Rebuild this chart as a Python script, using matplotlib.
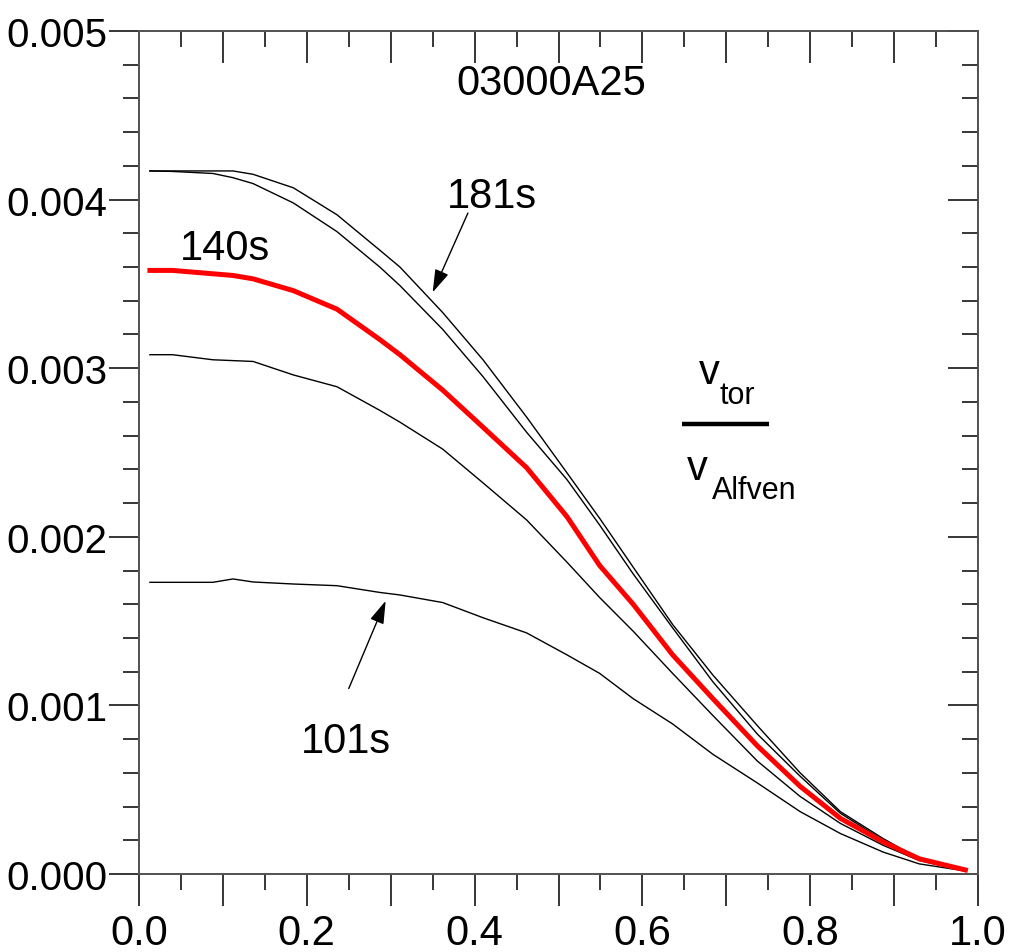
import numpy as np
import matplotlib
matplotlib.use("Agg")
import matplotlib.pyplot as plt
from matplotlib.ticker import MultipleLocator, FuncFormatter, NullFormatter

plt.rcParams['font.family'] = ['Liberation Sans', 'DejaVu Sans']

# normalised radius (shared grid)
r = [0.013, 0.04, 0.088, 0.112, 0.136, 0.184, 0.236, 0.287, 0.311, 0.362, 0.41,
     0.462, 0.51, 0.549, 0.589, 0.636, 0.684, 0.737, 0.788, 0.836, 0.887, 0.93, 0.985]

# v_tor / v_Alfven profiles
v_181 = [0.00417, 0.00417, 0.00417, 0.00417, 0.00415, 0.00407, 0.00391, 0.00370, 0.00360,
         0.00333, 0.00305, 0.00271, 0.00238, 0.00211, 0.00182, 0.00148, 0.00118, 0.00088,
         0.00060, 0.00037, 0.00021, 0.00009, 0.000025]
v_2nd = [0.00417, 0.004167, 0.004155, 0.00413, 0.004095, 0.00398, 0.00381, 0.00360, 0.00349,
         0.00323, 0.00295, 0.00262, 0.00234, 0.00207, 0.00178, 0.00146, 0.00114, 0.00083,
         0.00058, 0.00036, 0.00020, 0.00009, 0.000025]
v_140 = [0.00358, 0.00358, 0.00356, 0.00355, 0.00353, 0.00346, 0.00335, 0.00317, 0.00308,
         0.00287, 0.00265, 0.00241, 0.00212, 0.00183, 0.00160, 0.00130, 0.00104, 0.00076,
         0.00052, 0.00033, 0.00019, 0.00009, 0.000024]
v_4th = [0.00308, 0.00308, 0.00305, 0.003045, 0.00304, 0.00296, 0.00289, 0.00275, 0.00268,
         0.00252, 0.00232, 0.00210, 0.00185, 0.00164, 0.00144, 0.00119, 0.00094, 0.00067,
         0.00046, 0.00030, 0.00017, 0.00008, 0.000018]
v_101 = [0.00173, 0.00173, 0.00173, 0.00175, 0.001732, 0.00172, 0.00171, 0.00167, 0.001655,
         0.00161, 0.00152, 0.00143, 0.00130, 0.00119, 0.00104, 0.00089, 0.00071, 0.00054,
         0.00037, 0.00024, 0.00013, 0.00006, 0.000018]

fig = plt.figure(figsize=(10.16, 9.53), dpi=100)
ax = fig.add_axes([139/1016, 78/953, 839/1016, 843/953])

for v in [v_181, v_2nd, v_4th, v_101]:
    ax.plot(r, v, color='black', lw=1.0)
ax.plot(r, v_140, color='#ff0000', lw=3.6)

ax.set_xlim(0, 1.0)
ax.set_ylim(0, 0.005)

spine_col = '#555555'
for s in ax.spines.values():
    s.set_color(spine_col)
    s.set_linewidth(1.3)

ax.xaxis.set_major_locator(MultipleLocator(0.1))
ax.xaxis.set_minor_locator(MultipleLocator(0.05))
ax.xaxis.set_major_formatter(FuncFormatter(
    lambda v, p: f"{v:.1f}" if round(v * 10) % 2 == 0 else ""))
ax.yaxis.set_major_locator(MultipleLocator(0.001))
ax.yaxis.set_minor_locator(MultipleLocator(0.0002))
ax.yaxis.set_major_formatter(FuncFormatter(lambda v, p: f"{v:.3f}"))

ax.tick_params(axis='x', which='major', direction='out', length=23, width=1.1,
               labelsize=30, pad=5, color='black')
ax.tick_params(axis='x', which='minor', direction='out', length=11.5, width=1.1, color='black')
ax.tick_params(axis='y', which='major', direction='out', length=21.5, width=1.1,
               labelsize=29, pad=1, color='black')
ax.tick_params(axis='y', which='minor', direction='out', length=11.5, width=1.1, color='black')

# top ticks point inward
axt = ax.twiny()
axt.set_xlim(0, 1.0)
axt.xaxis.set_major_locator(MultipleLocator(0.1))
axt.xaxis.set_minor_locator(MultipleLocator(0.05))
axt.xaxis.set_major_formatter(NullFormatter())
axt.tick_params(axis='x', which='major', direction='in', length=23, width=1.1, color='black')
axt.tick_params(axis='x', which='minor', direction='in', length=11.5, width=1.1, color='black')

# right ticks point inward
axr = ax.twinx()
axr.set_ylim(0, 0.005)
axr.yaxis.set_major_locator(MultipleLocator(0.001))
axr.yaxis.set_minor_locator(MultipleLocator(0.0002))
axr.yaxis.set_major_formatter(NullFormatter())
axr.tick_params(axis='y', which='major', direction='in', length=21.5, width=1.1, color='black')
axr.tick_params(axis='y', which='minor', direction='in', length=11.5, width=1.1, color='black')
for a in (axt, axr):
    for s in a.spines.values():
        s.set_color(spine_col)
        s.set_linewidth(1.3)

fs = 30
ax.text(0.492, 0.00469, "03000A25", fontsize=fs, ha='center', va='center')
ax.text(0.1025, 0.00371, "140s", fontsize=fs, ha='center', va='center')
ax.text(0.421, 0.00402, "181s", fontsize=fs, ha='center', va='center')
ax.text(0.247, 0.00079, "101s", fontsize=fs, ha='center', va='center')

arrow = dict(arrowstyle='-|>,head_length=0.7,head_width=0.22', color='black', lw=1.0,
             mutation_scale=20, shrinkA=0, shrinkB=0)
ax.annotate("", xy=(0.350, 0.00345), xytext=(0.392, 0.00392), arrowprops=arrow)
ax.annotate("", xy=(0.294, 0.00162), xytext=(0.250, 0.00110), arrowprops=arrow)

# v_tor / v_Alfven label
ax.text(0.680, 0.00298, "v", fontsize=30, ha='center', va='center')
ax.text(0.713, 0.00284, "tor", fontsize=22, ha='center', va='center')
ax.plot([0.647, 0.751], [0.00267, 0.00267], color='black', lw=3.2, solid_capstyle='butt')
ax.text(0.666, 0.00241, "v", fontsize=30, ha='center', va='center')
ax.text(0.733, 0.00228, "Alfven", fontsize=22, ha='center', va='center')

fig.savefig("out.png", dpi=100)
